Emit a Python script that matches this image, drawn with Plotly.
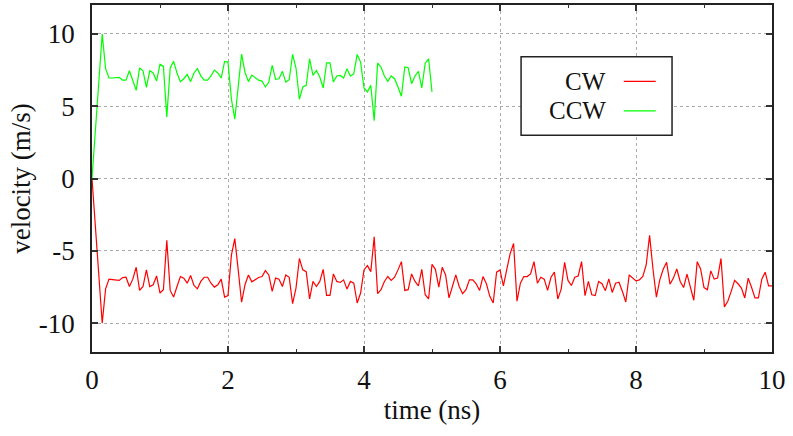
import numpy as np
import plotly.graph_objects as go

# time axis (ns): first sample at 0, then every 0.05 ns from 0.15
time_cw = [0.0] + [round(v, 2) for v in np.arange(0.15, 10.0001, 0.05)]
time_ccw = [0.0] + [round(v, 2) for v in np.arange(0.15, 5.0001, 0.05)]

cw_velocity = [0.0,
    -10.0, -7.63, -6.96, -6.99, -7.01, -7.05, -6.85, -6.83, -7.47, -6.96,
    -6.14, -7.74, -7.47, -6.32, -7.47, -7.35, -6.74, -7.92, -7.69, -4.27,
    -7.74, -8.20, -7.47, -6.78, -6.89, -7.24, -6.71, -7.40, -7.63, -7.12,
    -6.83, -6.83, -7.24, -7.51, -7.35, -6.96, -8.20, -8.10, -5.30, -4.16,
    -6.32, -8.56, -7.35, -6.67, -7.15, -7.01, -6.85,
    -6.78, -6.37, -6.67, -7.81, -6.89, -6.96, -7.47, -6.67, -6.83, -8.65,
    -7.58, -5.53, -6.32, -6.44, -8.33, -7.12, -7.47, -7.12, -6.28, -8.08,
    -8.08, -6.60, -7.12, -7.19, -7.01, -7.65, -7.12, -7.24, -8.61, -7.92,
    -6.32, -6.03, -6.44, -4.04, -7.97, -7.69, -7.12, -6.78, -7.05, -6.83,
    -6.32, -5.75, -7.74, -7.69, -6.60, -7.12, -7.42,
    -6.28, -8.04, -8.33, -5.94, -6.28, -7.51, -6.14, -6.67, -8.26, -7.47,
    -6.67, -7.47, -7.97, -7.69, -7.01, -7.01, -7.28, -7.74, -6.78, -7.28,
    -8.15, -8.61, -6.48, -6.32, -7.42, -6.28, -5.18, -4.50, -8.49, -7.24,
    -6.78, -6.78, -6.60, -5.75, -7.24, -6.83, -6.96, -7.74, -6.83, -6.48,
    -8.33, -7.65, -5.80, -7.05, -7.40, -6.83, -6.74, -5.75, -8.10, -7.12,
    -8.04, -8.10, -7.12, -7.28, -7.76, -6.94, -7.88, -7.24, -7.17, -7.81,
    -8.54, -6.67, -6.89, -7.08, -7.01, -6.78, -5.98, -3.93, -6.28, -8.20,
    -7.01, -6.28, -5.80, -7.31, -6.89, -6.26, -7.12, -7.54, -6.62, -7.58,
    -8.42, -5.75, -6.26, -7.54, -7.69, -6.39, -6.96, -6.89, -5.53, -8.88,
    -8.49, -7.81, -7.05, -7.28, -7.58, -8.26, -6.89, -7.54, -8.26, -8.26,
    -6.96, -6.48, -7.42, -7.42]

ccw_velocity = [0.0,
    10.0, 7.6, 6.95, 6.95, 6.95, 7.0, 6.8, 6.8, 7.45, 6.8,
    6.1, 7.65, 7.45, 6.3, 7.45, 7.3, 6.75, 7.9, 7.75, 4.25,
    7.65, 8.1, 7.3, 6.7, 6.9, 7.2, 6.7, 7.3, 7.6, 7.1,
    6.8, 6.8, 7.1, 7.5, 7.3, 6.95, 8.1, 8.05, 5.5, 4.1,
    6.2, 8.6, 7.35, 6.7, 7.15, 7.0, 6.8,
    6.74, 6.33, 6.67, 7.82, 6.86, 6.90, 7.41, 6.67, 6.83, 8.58,
    7.64, 5.48, 6.33, 6.44, 8.28, 7.13, 7.48, 7.02, 6.26, 8.00,
    8.00, 6.67, 7.09, 7.13, 6.95, 7.59, 7.09, 7.25, 8.58, 8.05,
    6.26, 5.99, 6.44, 3.99, 7.98, 7.71, 7.09, 6.72, 7.09, 6.90,
    6.33, 5.69, 7.71, 7.66, 6.56, 7.09, 7.41, 6.26, 7.98, 8.28,
    5.99]

x_ticks = [0, 2, 4, 6, 8, 10]
y_ticks = [-10, -5, 0, 5, 10]
series_names = ["CW", "CCW"]
series_colors = ["#ff0000", "#00ff00"]

FONT = "Liberation Serif"
FSIZE = 27
KEY_FSIZE = 25

fig = go.Figure()
fig.add_trace(go.Scatter(x=time_cw, y=cw_velocity, mode="lines", name=series_names[0],
                         line=dict(color=series_colors[0], width=1.2), showlegend=False))
fig.add_trace(go.Scatter(x=time_ccw, y=ccw_velocity, mode="lines", name=series_names[1],
                         line=dict(color=series_colors[1], width=1.2), showlegend=False))

axis_common = dict(
    showline=True, linecolor="#222222", linewidth=1.5, mirror="ticks",
    ticks="inside", ticklen=6, tickwidth=1.5, tickcolor="#333333",
    showgrid=True, gridcolor="#aaaaaa", griddash="dot", gridwidth=1,
    zeroline=False, tickfont=dict(family=FONT, size=FSIZE, color="#111111"),
)

fig.update_xaxes(range=[0, 10], tickvals=x_ticks, ticktext=[str(v) for v in x_ticks],
                 minor=dict(ticks="inside", dtick=1, ticklen=3, tickwidth=1, tickcolor="#333333",
                            showgrid=False),
                 title=dict(text="time (ns)", font=dict(family=FONT, size=FSIZE, color="#111111"),
                            standoff=6),
                 ticklabelstandoff=3, **axis_common)
fig.update_yaxes(range=[-12, 12], tickvals=y_ticks, ticktext=[str(v) for v in y_ticks],
                 title=dict(text="velocity (m/s)", font=dict(family=FONT, size=FSIZE, color="#111111"),
                            standoff=0),
                 ticklabelstandoff=10, **axis_common)

# key box drawn in gnuplot style (text left of the sample line)
box_x0, box_x1, box_y0, box_y1 = 0.631, 0.853, 0.625, 0.851
fig.add_shape(type="rect", xref="paper", yref="paper", x0=box_x0, x1=box_x1, y0=box_y0, y1=box_y1,
              line=dict(color="#222222", width=1.5), fillcolor="white", layer="above")
key_rows = [0.780, 0.695]
for name, color, ky in zip(series_names, series_colors, key_rows):
    fig.add_shape(type="line", xref="paper", yref="paper", x0=0.782, x1=0.829, y0=ky, y1=ky,
                  line=dict(color=color, width=1.2), layer="above")
    fig.add_annotation(xref="paper", yref="paper", x=0.757, y=ky, text=name, showarrow=False,
                       xanchor="right", yanchor="middle", borderpad=0,
                       font=dict(family=FONT, size=KEY_FSIZE, color="#111111"))

fig.update_layout(
    width=793, height=436,
    margin=dict(l=92, r=21, t=3, b=84),
    paper_bgcolor="white", plot_bgcolor="white",
    font=dict(family=FONT, size=FSIZE, color="#111111"),
)

fig.write_html("out.html")
